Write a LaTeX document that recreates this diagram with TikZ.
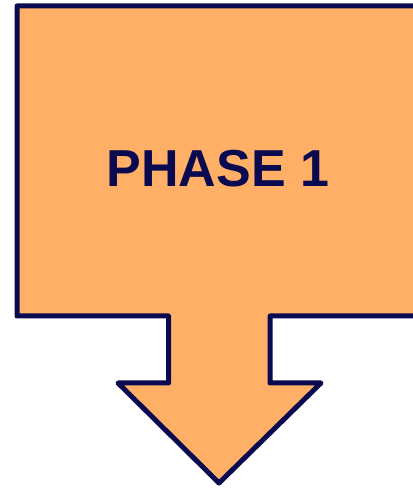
\documentclass[tikz,border=0pt]{standalone}
\usepackage{fontspec}
\setmainfont{Liberation Sans}
\definecolor{arrowfill}{RGB}{255,176,102}
\definecolor{navy}{RGB}{10,10,80}
\tikzset{
  phasearrow/.style={fill=arrowfill, draw=navy, line width=5pt, line join=round},
  phaselabel/.style={text=navy, font=\fontsize{52}{60}\selectfont\bfseries, inner sep=0pt}
}
\begin{document}
\begin{tikzpicture}[x=1pt,y=1pt]
\useasboundingbox (0,0) rectangle (413,491);
\clip (0,0) rectangle (413,491);
\draw[phasearrow] (17,485) -- (421,485) -- (421,175) -- (270,175) -- (270,108)
  -- (321,108) -- (219,8) -- (118,108) -- (168.5,108) -- (168.5,175) -- (17,175) -- cycle;
\node[phaselabel] (label) at (218,322.5) {PHASE 1};
\end{tikzpicture}
\end{document}
